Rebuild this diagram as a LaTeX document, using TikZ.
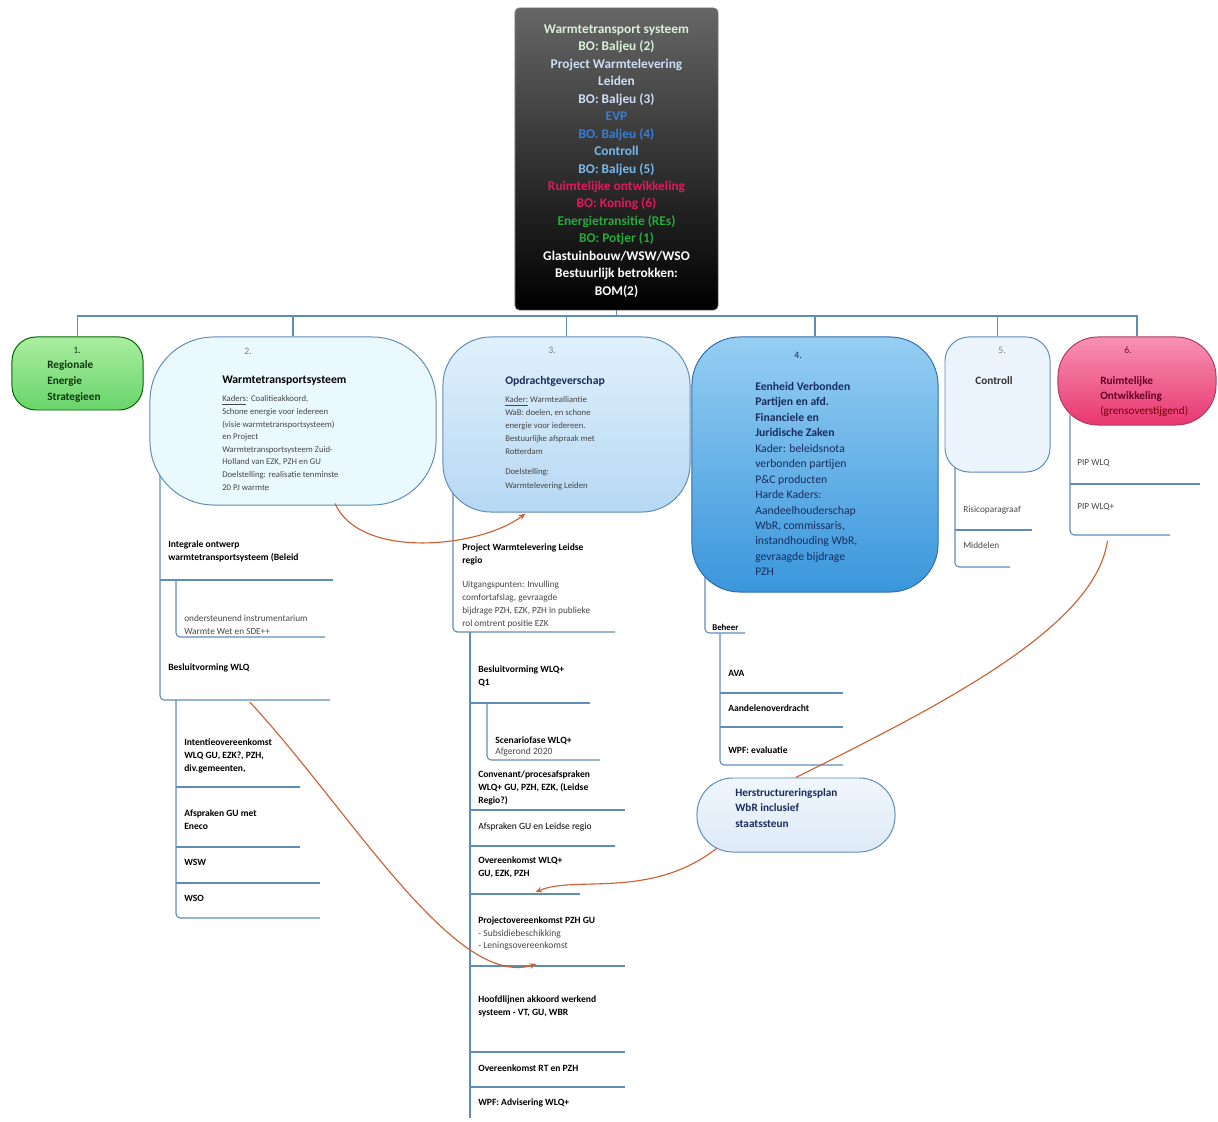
\documentclass[tikz,border=0pt]{standalone}
\usepackage{fontspec}
\setmainfont{Carlito}
\usetikzlibrary{arrows.meta, positioning, calc, backgrounds}
\definecolor{treeline}{RGB}{95,140,185}
\definecolor{relred}{RGB}{205,95,50}
\definecolor{navy}{RGB}{25,45,95}
\definecolor{bodygray}{RGB}{70,70,70}
\definecolor{lightgrn}{RGB}{215,240,215}
\definecolor{lightblu}{RGB}{205,222,245}
\definecolor{evpblue}{RGB}{55,125,215}
\definecolor{ctrlblue}{RGB}{120,185,235}
\definecolor{ruimred}{RGB}{225,25,90}
\definecolor{energgrn}{RGB}{40,170,60}

\begin{document}
\begin{tikzpicture}[x=0.025cm, y=-0.025cm,
    box/.style={draw=treeline, line width=0.7pt, inner sep=0pt},
    item/.style={anchor=west, align=left, inner sep=0pt, text=black, font=\fontsize{6.8}{9.2}\selectfont\bfseries},
    note/.style={anchor=west, align=left, inner sep=0pt, text=bodygray, font=\fontsize{6.6}{9.2}\selectfont},
    branch/.style={draw=treeline, line width=0.8pt, rounded corners=3pt},
    relation/.style={draw=relred, line width=0.8pt, -{Stealth[length=5pt,width=4pt]}}]

\useasboundingbox (0,0) rectangle (1218,1122);

% Top box
\node[draw=gray, rounded corners=3pt, top color=black!60, bottom color=black, minimum width=5.075cm, minimum height=7.55cm, inner sep=0pt] (top) at (616.5,159) {};
\node[inner sep=0pt, align=center, font=\fontsize{9.5}{12.4}\selectfont\bfseries] (toptxt) at (616.5,161) {%
  \textcolor{lightgrn}{Warmtetransport systeem}\\
  \textcolor{lightgrn}{BO: Baljeu (2)}\\
  \textcolor{lightblu}{Project Warmtelevering}\\
  \textcolor{lightblu}{Leiden}\\
  \textcolor{lightblu}{BO: Baljeu (3)}\\
  \textcolor{evpblue}{EVP}\\
  \textcolor{evpblue}{BO. Baljeu (4)}\\
  \textcolor{ctrlblue}{Controll}\\
  \textcolor{ctrlblue}{BO: Baljeu (5)}\\
  \textcolor{ruimred}{Ruimtelijke ontwikkeling}\\
  \textcolor{ruimred}{BO: Koning (6)}\\
  \textcolor{energgrn}{Energietransitie (REs)}\\
  \textcolor{energgrn}{BO: Potjer (1)}\\
  \textcolor{white}{Glastuinbouw/WSW/WSO}\\
  \textcolor{white}{Bestuurlijk betrokken:}\\
  \textcolor{white}{BOM(2)}};

% Main branches
\node[box, draw=green!40!black, top color={rgb,255:red,170;green,238;blue,160}, bottom color={rgb,255:red,105;green,212;blue,105}, rounded corners=0.6cm, minimum width=3.275cm, minimum height=1.825cm] (n1) at (77.5,373.5) {};
\node[box, fill={rgb,255:red,234;green,249;blue,253}, rounded corners=1.6cm, minimum width=7.15cm, minimum height=4.2cm] (n2) at (293,421) {};
\node[box, top color={rgb,255:red,224;green,240;blue,252}, bottom color={rgb,255:red,182;green,216;blue,243}, rounded corners=1.2cm, minimum width=6.175cm, minimum height=4.375cm] (n3) at (566.5,424.5) {};
\node[box, draw={rgb,255:red,50;green,110;blue,170}, top color={rgb,255:red,150;green,206;blue,243}, bottom color={rgb,255:red,58;green,150;blue,220}, rounded corners=1.2cm, minimum width=6.15cm, minimum height=6.375cm] (n4) at (815,464.5) {};
\node[box, fill={rgb,255:red,235;green,243;blue,252}, rounded corners=0.6cm, minimum width=2.625cm, minimum height=3.375cm] (n5) at (997.5,404.5) {};
\node[box, draw={rgb,255:red,170;green,60;blue,100}, top color={rgb,255:red,248;green,145;blue,180}, bottom color={rgb,255:red,232;green,55;blue,112}, rounded corners=1.0cm, minimum width=3.95cm, minimum height=2.2cm] (n6) at (1137,381) {};
\node[box, top color={rgb,255:red,240;green,246;blue,252}, bottom color={rgb,255:red,222;green,234;blue,248}, rounded corners=0.9cm, minimum width=4.95cm, minimum height=1.85cm] (herstr) at (796,815) {};

% Bus
\begin{pgfonlayer}{background}
  \coordinate (bus) at (0,316);
  \draw[branch, rounded corners=0pt] (n1.north) -- (n1.north |- bus) -- (n6.north |- bus) -- (n6.north);
  \draw[branch] (top.south) -- (top.south |- bus);
  \foreach \n in {n2,n3,n4,n5}
    \draw[branch] (\n.north) -- (\n.north |- bus);

  % Tree lines
  \draw[branch] (160,470) -- (160,700) -- (330,700);
  \draw[branch] (160,580) -- (333,580);
  \draw[branch] (176,580) -- (176,637) -- (325,637);
  \draw[branch] (176,700) -- (176,918) -- (320,918);
  \draw[branch] (176,787) -- (300,787);
  \draw[branch] (176,847) -- (300,847);
  \draw[branch] (176,883) -- (320,883);

  \draw[branch] (453,480) -- (453,632) -- (615,632);
  \draw[branch] (470,632) -- (470,1118);
  \draw[branch] (470,703) -- (590,703);
  \draw[branch] (487,703) -- (487,760) -- (600,760);
  \draw[branch] (470,810) -- (625,810);
  \draw[branch] (470,846) -- (615,846);
  \draw[branch] (470,894) -- (580,894);
  \draw[branch] (470,966) -- (625,966);
  \draw[branch] (470,1052) -- (625,1052);
  \draw[branch] (470,1087) -- (625,1087);

  \draw[branch] (705,560) -- (705,633) -- (745,633);
  \draw[branch] (720,633) -- (720,765) -- (843,765);
  \draw[branch] (720,693) -- (843,693);
  \draw[branch] (720,727) -- (843,727);

  \draw[branch] (955,460) -- (955,567) -- (1010,567);
  \draw[branch] (955,530) -- (1032,530);
  \draw[branch] (1070,415) -- (1070,535) -- (1170,535);
  \draw[branch] (1070,484) -- (1200,484);
\end{pgfonlayer}

% Branch texts
\node[inner sep=0pt, font=\fontsize{7}{9}\selectfont, text={rgb,255:red,20;green,70;blue,20}] (n1num) at (77,350) {1.};
\node[item, font=\fontsize{8}{11.2}\selectfont\bfseries, text={rgb,255:red,15;green,55;blue,15}] (n1txt) at (47,381.5) {Regionale\\Energie\\Strategieen};

\node[inner sep=0pt, font=\fontsize{7}{9}\selectfont, text=gray] (n2num) at (248,351) {2.};
\node[item, font=\fontsize{8.3}{10}\selectfont\bfseries] (n2ttl) at (222,381) {Warmtetransportsysteem};
\node[note, font=\fontsize{6.2}{8.9}\selectfont] (n2txt) at (222,443.5) {\underline{Kaders}: Coalitieakkoord,\\Schone energie voor iedereen\\(visie warmtetransportsysteem)\\en Project\\Warmtetransportsysteem Zuid-\\Holland van EZK, PZH en GU\\Doelstelling: realisatie tenminste\\[1pt]20 PJ warmte};

\node[inner sep=0pt, font=\fontsize{7}{9}\selectfont, text=gray] (n3num) at (552,350) {3.};
\node[item, font=\fontsize{8.3}{10}\selectfont\bfseries, text=navy] (n3ttl) at (505,381) {Opdrachtgeverschap};
\node[note, font=\fontsize{6.2}{9.2}\selectfont] (n3txt) at (505,443.5) {\underline{Kader:} Warmtealliantie\\WaB: doelen, en schone\\energie voor iedereen.\\Bestuurlijke afspraak met\\Rotterdam\\[5pt]Doelstelling:\\[1pt]Warmtelevering Leiden};

\node[inner sep=0pt, font=\fontsize{7}{9}\selectfont, text=navy] (n4num) at (798,355) {4.};
\node[item, font=\fontsize{8.3}{11}\selectfont, text=navy] (n4txt) at (755,479) {\textbf{Eenheid Verbonden}\\\textbf{Partijen en afd.}\\\textbf{Financiele en}\\\textbf{Juridische Zaken}\\\mdseries Kader: beleidsnota\\\mdseries verbonden partijen\\\mdseries P\&C producten\\\mdseries Harde Kaders:\\\mdseries Aandeelhouderschap\\\mdseries WbR, commissaris,\\\mdseries instandhouding WbR,\\\mdseries gevraagde bijdrage\\\mdseries PZH};

\node[inner sep=0pt, font=\fontsize{7}{9}\selectfont, text=gray] (n5num) at (1002,350) {5.};
\node[inner sep=0pt, font=\fontsize{8}{10}\selectfont\bfseries, text=black!80] (n5ttl) at (994,381) {Controll};

\node[inner sep=0pt, font=\fontsize{7}{9}\selectfont, text={rgb,255:red,110;green,20;blue,50}] (n6num) at (1128,350) {6.};
\node[item, font=\fontsize{8}{11}\selectfont, text={rgb,255:red,100;green,0;blue,40}] (n6txt) at (1100,396.5) {\textbf{Ruimtelijke}\\\textbf{Ontwikkeling}\\\mdseries\color{red!45!black}(grensoverstijgend)};

\node[item, font=\fontsize{8}{11.2}\selectfont\bfseries, text=navy] (herstrtxt) at (735,808) {Herstructureringsplan\\WbR inclusief\\staatssteun};

% Items under 2
\node[item] (c21) at (168,551) {Integrale ontwerp\\warmtetransportsysteem (Beleid};
\node[note] (c211) at (184,624.5) {ondersteunend instrumentarium\\Warmte Wet en SDE++};
\node[item] (c22) at (168,668) {Besluitvorming WLQ};
\node[item] (c221) at (184,756) {Intentieovereenkomst\\WLQ GU, EZK?, PZH,\\div.gemeenten,};
\node[item] (c222) at (184,819.5) {Afspraken GU met\\Eneco};
\node[item] (c223) at (184,862) {WSW};
\node[item] (c224) at (184,898) {WSO};

% Items under 3
\node[item] (c31) at (462,554.5) {Project Warmtelevering Leidse\\regio};
\node[note] (c31n) at (462,604.5) {Uitgangspunten: Invulling\\comfortafslag, gevraagde\\bijdrage PZH, EZK, PZH in publieke\\rol omtrent positie EZK};
\node[item] (c32) at (478,676) {Besluitvorming WLQ+\\Q1};
\node[item, font=\fontsize{6.8}{8}\selectfont\bfseries] (c321) at (495,746.5) {Scenariofase WLQ+\\\mdseries\color{bodygray}Afgerond 2020};
\node[item] (c33) at (478,788) {Convenant/procesafspraken\\WLQ+ GU, PZH, EZK, (Leidse\\Regio?)};
\node[item, font=\fontsize{6.8}{9}\selectfont] (c34) at (478,827) {Afspraken GU en Leidse regio};
\node[item] (c35) at (478,867.5) {Overeenkomst WLQ+\\GU, EZK, PZH};
\node[item] (c36) at (478,933.5) {Projectovereenkomst PZH GU\\\mdseries\color{bodygray}- Subsidiebeschikking\\\mdseries\color{bodygray}- Leningsovereenkomst};
\node[item] (c37) at (478,1006.5) {Hoofdlijnen akkoord werkend\\systeem - VT, GU, WBR};
\node[item] (c38) at (478,1068) {Overeenkomst RT en PZH};
\node[item] (c39) at (478,1103) {WPF: Advisering WLQ+};

% Items under 4
\node[item, font=\fontsize{6.3}{8}\selectfont\bfseries] (c41) at (712,627) {Beheer};
\node[item] (c42) at (728,673) {AVA};
\node[item] (c43) at (728,708) {Aandelenoverdracht};
\node[item] (c44) at (728,750) {WPF: evaluatie};

% Items under 5 and 6
\node[note] (c51) at (963,510) {Risicoparagraaf};
\node[note] (c52) at (963,545) {Middelen};
\node[note] (c61) at (1077,463) {PIP WLQ};
\node[note] (c62) at (1077,507) {PIP WLQ+};

% Relations
\draw[relation] ($(n2.south)+(42,-2)$) .. controls (360,560) and (480,548) .. ($(n3.south)+(-41,1)$);
\draw[relation] ($(c22.east)+(0,34)$) .. controls (350,810) and (455,990) .. ($(c36.south)+(0,13)$);
\draw[draw=relred, line width=0.8pt] ($(c62.south east)+(-7,30)$) .. controls (1095,630) and (930,710) .. (herstr.north);
\draw[relation] ($(herstr.south west)+(20,-4)$) .. controls (650,900) and (575,875) .. ($(c35.south)+(15,14)$);

\end{tikzpicture}
\end{document}
